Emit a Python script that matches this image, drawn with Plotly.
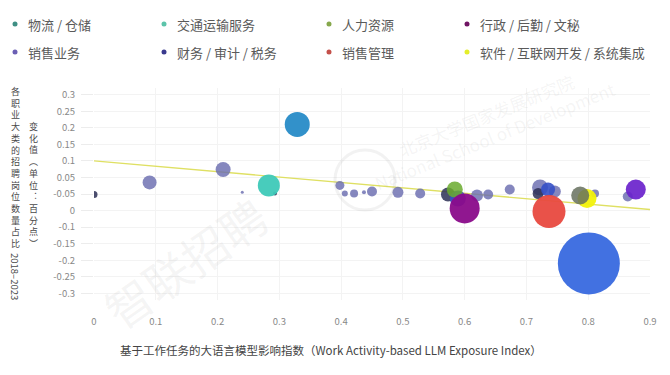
import plotly.graph_objects as go

# ---------------- data ----------------
legend_names = ["物流 / 仓储", "交通运输服务", "人力资源", "行政 / 后勤 / 文秘",
                "销售业务", "财务 / 审计 / 税务", "销售管理", "软件 / 互联网开发 / 系统集成"]
legend_colors = ["#3f8f84", "#5cc4aa", "#86a84c", "#701463",
                 "#6b5fb4", "#3a3a8e", "#c4504a", "#e4ee2a"]

grp_other_x = [0.09, 0.209, 0.24, 0.398, 0.406, 0.421, 0.437, 0.45, 0.492, 0.528,
               0.62, 0.638, 0.673, 0.722, 0.746, 0.811, 0.864]
grp_other_y = [0.035, 0.074, 0.005, 0.026, 0.0015, 0.0015, 0.005, 0.0076, 0.005, 0.0015,
               -0.0045, -0.0015, 0.0136, 0.0196, 0.0076, 0.0015, -0.0075]
grp_other_s = [14, 15, 3, 9, 6, 8, 4, 10, 11, 10, 12, 10, 10, 16, 12, 8, 10]

grp_dark_x = [0.0, 0.293, 0.573, 0.719]
grp_dark_y = [-0.0015, 0.0015, -0.0015, 0.0015]
grp_dark_s = [7, 4, 14, 11]

grp_blue_x = [0.589, 0.735]
grp_blue_y = [-0.0135, 0.0136]
grp_blue_s = [16, 14]

hr_x, hr_y, hr_s = [0.584], [0.0136], [16]
admin_x, admin_y, admin_s = [0.600], [-0.0437], [30]
transport_x, transport_y, transport_s = [0.283], [0.026], [22]
logistics_x, logistics_y, logistics_s = [0.329], [0.21], [25]
salesmgmt_x, salesmgmt_y, salesmgmt_s = [0.7365], [-0.0527], [33]
software_x, software_y, software_s = [0.798], [-0.0135], [19]
graygreen_x, graygreen_y, graygreen_s = [0.787], [-0.0045], [18]
sales_x, sales_y, sales_s = [0.877], [0.0136], [20]
finance_x, finance_y, finance_s = [0.801], [-0.2095], [62]

trend_x = [0.0, 0.9]
trend_y = [0.10, -0.047]

x_ticks = [0, 0.1, 0.2, 0.3, 0.4, 0.5, 0.6, 0.7, 0.8, 0.9]
x_ticktext = ["0", "0.1", "0.2", "0.3", "0.4", "0.5", "0.6", "0.7", "0.8", "0.9"]
y_ticks = [0.3, 0.25, 0.2, 0.15, 0.1, 0.05, 0.0, -0.05, -0.1, -0.15, -0.2, -0.25, -0.3]
y_ticktext = ["0.3", "0.25", "0.2", "0.15", "0.1", "0.05", "-0.05", "0",
              "-0.1", "-0.15", "-0.2", "-0.25", "-0.3"]

y_title_outer = "各职业大类的招聘岗位数量占比"
y_title_outer_years = "2018–2023"
y_title_inner = "变化值︵单位︓百分点︶"
x_title = "基于工作任务的大语言模型影响指数（Work Activity-based LLM Exposure Index）"

# ---------------- figure ----------------
OFF = 8  # page body margin
W, H = 670 - OFF, 375 - OFF
L, R, T, B = 94 - OFF, 20, 88 - OFF, 75
PW, PH = W - L - R, H - T - B
FONT = "Noto Sans CJK SC, Noto Sans, sans-serif"


def px(x):
    return (x - OFF - L) / PW


def py(y):
    return (H - B - (y - OFF)) / PH


fig = go.Figure()


def add(xs, ys, ss, color, opacity=0.9, name=""):
    fig.add_trace(go.Scatter(
        x=xs, y=ys, mode="markers", name=name, showlegend=False,
        marker=dict(size=ss, sizemode="diameter", color=color, opacity=opacity,
                    line=dict(width=0)),
        cliponaxis=True, hoverinfo="x+y"))


fig.add_trace(go.Scatter(x=trend_x, y=trend_y, mode="lines", showlegend=False,
                         line=dict(color="#dfe063", width=1.4), hoverinfo="skip"))

add(grp_other_x, grp_other_y, grp_other_s, "#6a6cb0", 0.82, "其他")
add(grp_dark_x, grp_dark_y, grp_dark_s, "#2c2f55", 0.85, "其他")
add(grp_blue_x, grp_blue_y, grp_blue_s, "#3550c6", 0.9, legend_names[5])
add(hr_x, hr_y, hr_s, "#6aaa2e", 0.85, legend_names[2])
add(admin_x, admin_y, admin_s, "#8a0b8a", 0.95, legend_names[3])
add(transport_x, transport_y, transport_s, "#3ec9b8", 0.95, legend_names[1])
add(logistics_x, logistics_y, logistics_s, "#2b8dc8", 0.97, legend_names[0])
add(salesmgmt_x, salesmgmt_y, salesmgmt_s, "#e8493f", 0.95, legend_names[6])
add(software_x, software_y, software_s, "#f2f20a", 0.95, legend_names[7])
add(graygreen_x, graygreen_y, graygreen_s, "#66705e", 0.85, "其他")
add(sales_x, sales_y, sales_s, "#6a22cc", 0.92, legend_names[4])
add(finance_x, finance_y, finance_s, "#3c6ce0", 0.97, legend_names[5])

annotations = []
shapes = []

# manual legend (page pixel positions)
leg_dot_x = [15, 164, 329, 467]
leg_row_y = [24, 52]
for i, (name, col) in enumerate(zip(legend_names, legend_colors)):
    r, c = divmod(i, 4)
    cx, cy = leg_dot_x[c], leg_row_y[r]
    shapes.append(dict(type="circle", xref="paper", yref="paper",
                       xsizemode="pixel", ysizemode="pixel",
                       xanchor=px(cx), yanchor=py(cy),
                       x0=-2.5, x1=2.5, y0=-2.5, y1=2.5,
                       fillcolor=col, line=dict(width=0)))
    annotations.append(dict(text=name, xref="paper", yref="paper",
                            x=px(cx + 11), y=py(cy), xanchor="left", yanchor="middle",
                            showarrow=False, font=dict(family=FONT, size=13, color="#5a5a5a")))

# y titles: upright stacked characters
annotations.append(dict(text="<br>".join(y_title_outer), xref="paper", yref="paper",
                        x=px(15), y=py(84), xanchor="center", yanchor="top",
                        showarrow=False, borderpad=0,
                        font=dict(family=FONT, size=9, color="#4a4a4a")))
annotations.append(dict(text=y_title_outer_years, xref="paper", yref="paper",
                        x=px(15), y=py(276), xanchor="center", yanchor="middle", textangle=90,
                        showarrow=False, borderpad=0,
                        font=dict(family=FONT, size=9.5, color="#4a4a4a")))
annotations.append(dict(text="<br>".join(y_title_inner), xref="paper", yref="paper",
                        x=px(33), y=py(185), xanchor="center", yanchor="middle",
                        showarrow=False, borderpad=0,
                        font=dict(family=FONT, size=9, color="#4a4a4a")))

# x title
annotations.append(dict(text=x_title, xref="paper", yref="paper",
                        x=px(331), y=py(350), xanchor="center", yanchor="middle",
                        showarrow=False, font=dict(family=FONT, size=11.5, color="#444")))

# faint watermarks
annotations.append(dict(text="智联招聘", xref="paper", yref="paper",
                        x=px(185), y=py(262), xanchor="center", yanchor="middle", textangle=-35,
                        showarrow=False, font=dict(family=FONT, size=46, color="rgba(150,150,150,0.10)")))
annotations.append(dict(text="北京大学国家发展研究院<br>National School of Development",
                        xref="paper", yref="paper",
                        x=px(490), y=py(125), xanchor="center", yanchor="middle", textangle=-22,
                        showarrow=False, font=dict(family=FONT, size=17, color="rgba(150,150,150,0.10)")))
shapes.append(dict(type="circle", xref="paper", yref="paper",
                   xsizemode="pixel", ysizemode="pixel", xanchor=px(365), yanchor=py(180),
                   x0=-30, x1=30, y0=-30, y1=30, fillcolor="rgba(0,0,0,0)",
                   line=dict(color="rgba(150,150,150,0.12)", width=3)))

fig.update_layout(
    width=W, height=H,
    margin=dict(l=L, r=R, t=T, b=B, pad=0),
    paper_bgcolor="white", plot_bgcolor="white",
    showlegend=False,
    font=dict(family=FONT, color="#888"),
    annotations=annotations, shapes=shapes,
    xaxis=dict(range=[0, 0.9], tickmode="array", tickvals=x_ticks, ticktext=x_ticktext,
               showgrid=True, gridcolor="#f3f3f3", gridwidth=1, zeroline=False,
               showline=False, ticks="", ticklabelstandoff=14,
               tickfont=dict(family=FONT, size=9.5, color="#888")),
    yaxis=dict(range=[-0.32, 0.32], tickmode="array", tickvals=y_ticks, ticktext=y_ticktext,
               showgrid=True, gridcolor="#f3f3f3", gridwidth=1, zeroline=False,
               showline=False, ticks="outside", ticklen=12, tickcolor="#ececec",
               ticklabelstandoff=4,
               tickfont=dict(family=FONT, size=9.5, color="#888")),
)

fig.write_html("out.html")
